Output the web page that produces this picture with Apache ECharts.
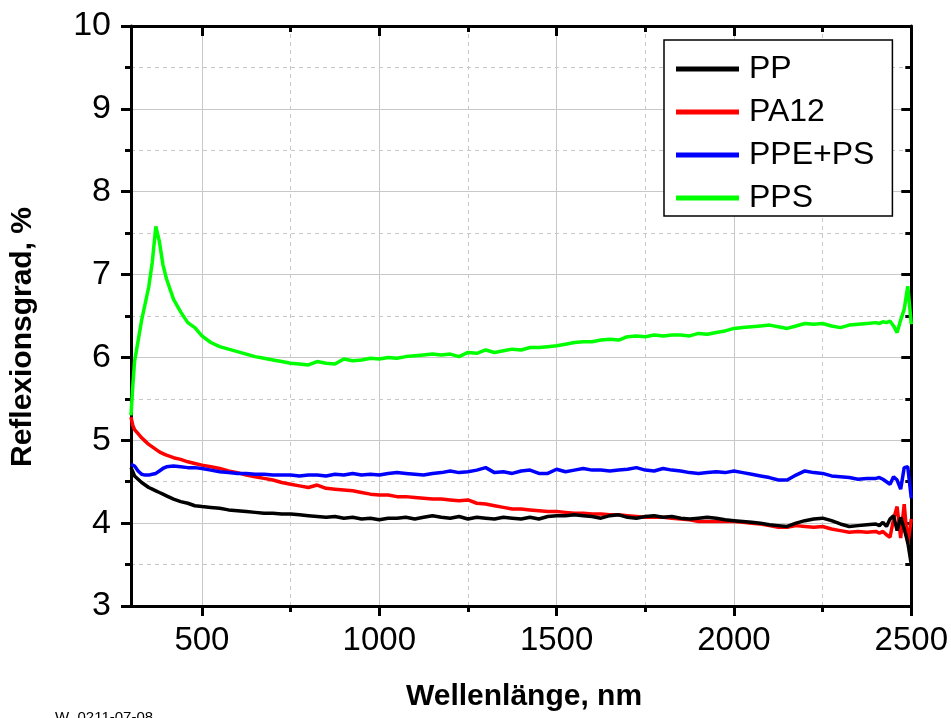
<!DOCTYPE html>
<html>
<head>
<meta charset="utf-8">
<title>Reflexionsgrad</title>
<script src="https://cdn.jsdelivr.net/npm/echarts@6/dist/echarts.min.js"></script>
<style>
	html, body { margin: 0; padding: 0; background: #fff; }
	#chart { width: 951px; height: 718px; }
</style>
</head>
<body>
<div id="chart"></div>
<script>
	// Wellenlänge in nm
	var wavelength = [
		300, 305, 310, 320, 330, 340, 350, 360, 370, 380, 390, 400, 420, 440, 460, 480, 500,
		525, 550, 575, 600, 625, 650, 675, 700, 725, 750, 775, 800, 825, 850, 875, 900, 925, 950, 975,
		1000, 1025, 1050, 1075, 1100, 1125, 1150, 1175, 1200, 1225, 1250, 1275, 1300, 1325, 1350, 1375,
		1400, 1425, 1450, 1475, 1500, 1525, 1550, 1575, 1600, 1625, 1650, 1675, 1700, 1725, 1750, 1775,
		1800, 1825, 1850, 1875, 1900, 1925, 1950, 1975, 2000, 2025, 2050, 2075, 2100, 2125, 2150, 2175,
		2200, 2225, 2250, 2275, 2300, 2325, 2350, 2375, 2400,
		2410, 2420, 2430, 2440, 2450, 2460, 2470, 2480, 2490, 2500
	];
	var pp = [
		4.67, 4.62, 4.57, 4.53, 4.49, 4.46, 4.43, 4.41, 4.39, 4.37, 4.35, 4.33, 4.29, 4.26, 4.24, 4.21, 4.20,
		4.19, 4.18, 4.16, 4.15, 4.14, 4.13, 4.12, 4.12, 4.11, 4.11, 4.10, 4.09, 4.08, 4.07, 4.08, 4.06, 4.07, 4.05, 4.06,
		4.04, 4.06, 4.06, 4.07, 4.05, 4.07, 4.09, 4.07, 4.06, 4.08, 4.05, 4.07, 4.06, 4.05, 4.07, 4.06,
		4.05, 4.07, 4.05, 4.08, 4.09, 4.09, 4.10, 4.09, 4.08, 4.06, 4.09, 4.10, 4.07, 4.06, 4.08, 4.09,
		4.07, 4.08, 4.06, 4.05, 4.06, 4.07, 4.06, 4.04, 4.03, 4.02, 4.01, 4.00, 3.98, 3.97, 3.96, 4.00,
		4.03, 4.05, 4.06, 4.03, 3.99, 3.96, 3.97, 3.98, 3.99,
		3.97, 4.01, 3.96, 4.05, 4.09, 3.91, 4.07, 3.93, 3.77, 3.50
	];
	var pa12 = [
		5.28, 5.18, 5.13, 5.08, 5.03, 4.99, 4.95, 4.92, 4.89, 4.86, 4.84, 4.82, 4.79, 4.77, 4.74, 4.72, 4.70,
		4.68, 4.66, 4.63, 4.61, 4.58, 4.56, 4.54, 4.52, 4.49, 4.47, 4.45, 4.43, 4.46, 4.42, 4.41, 4.40, 4.39, 4.37, 4.35,
		4.34, 4.34, 4.32, 4.32, 4.31, 4.30, 4.29, 4.29, 4.28, 4.27, 4.28, 4.24, 4.23, 4.21, 4.19, 4.17,
		4.17, 4.16, 4.15, 4.14, 4.14, 4.13, 4.12, 4.12, 4.11, 4.11, 4.10, 4.10, 4.09, 4.08, 4.07, 4.07,
		4.07, 4.06, 4.05, 4.04, 4.02, 4.02, 4.02, 4.02, 4.02, 4.01, 4.00, 3.99, 3.97, 3.95, 3.95, 3.97,
		3.96, 3.95, 3.96, 3.93, 3.91, 3.89, 3.90, 3.89, 3.90,
		3.88, 3.90, 3.86, 3.83, 4.05, 4.20, 3.82, 4.23, 3.75, 4.05
	];
	var ppePs = [
		4.71, 4.72, 4.69, 4.63, 4.59, 4.58, 4.58, 4.59, 4.60, 4.63, 4.66, 4.68, 4.69, 4.68, 4.67, 4.67, 4.66,
		4.64, 4.62, 4.61, 4.60, 4.60, 4.59, 4.59, 4.58, 4.58, 4.58, 4.57, 4.58, 4.58, 4.57, 4.59, 4.58, 4.60, 4.58, 4.59,
		4.58, 4.60, 4.61, 4.60, 4.59, 4.58, 4.60, 4.61, 4.63, 4.61, 4.62, 4.64, 4.67, 4.61, 4.62, 4.60,
		4.63, 4.64, 4.60, 4.60, 4.65, 4.62, 4.64, 4.66, 4.64, 4.64, 4.63, 4.64, 4.65, 4.67, 4.64, 4.63,
		4.66, 4.64, 4.63, 4.61, 4.60, 4.61, 4.62, 4.61, 4.63, 4.61, 4.59, 4.57, 4.55, 4.52, 4.52, 4.58,
		4.63, 4.61, 4.60, 4.57, 4.56, 4.55, 4.53, 4.54, 4.54,
		4.55, 4.53, 4.50, 4.47, 4.56, 4.52, 4.41, 4.67, 4.68, 4.30
	];
	var pps = [
		5.30, 5.65, 5.95, 6.20, 6.45, 6.65, 6.85, 7.15, 7.58, 7.40, 7.12, 6.95, 6.70, 6.55, 6.42, 6.36, 6.26,
		6.18, 6.13, 6.10, 6.07, 6.04, 6.01, 5.99, 5.97, 5.95, 5.93, 5.92, 5.91, 5.95, 5.93, 5.92, 5.98, 5.96, 5.97, 5.99,
		5.98, 6.00, 5.99, 6.01, 6.02, 6.03, 6.04, 6.03, 6.04, 6.01, 6.06, 6.05, 6.09, 6.06, 6.08, 6.10,
		6.09, 6.12, 6.12, 6.13, 6.14, 6.16, 6.18, 6.19, 6.19, 6.21, 6.22, 6.21, 6.25, 6.26, 6.25, 6.27,
		6.26, 6.27, 6.27, 6.26, 6.29, 6.28, 6.30, 6.32, 6.35, 6.36, 6.37, 6.38, 6.39, 6.37, 6.35, 6.38,
		6.41, 6.40, 6.41, 6.38, 6.36, 6.39, 6.40, 6.41, 6.42,
		6.41, 6.43, 6.42, 6.44, 6.38, 6.30, 6.45, 6.58, 6.86, 6.40
	];

	var seriesNames = ['PP', 'PA12', 'PPE+PS', 'PPS'];
	var seriesColors = ['#000000', '#ff0000', '#0000ff', '#00ff00'];
	var majorTicksX = [500, 1000, 1500, 2000, 2500];
	var minorTicksX = [750, 1250, 1750, 2250];

	var FONT = '"Liberation Sans", Arial, sans-serif';
	var gridColor = '#c8c8c8';

	function pairs(vals) {
		return wavelength.map(function (w, i) { return [w, vals[i]]; });
	}

	var chart = echarts.init(document.getElementById('chart'), null, { renderer: 'canvas' });

	// gemeinsame Achsenoptionen
	var axisLineStyle = { show: true, onZero: false, lineStyle: { color: '#000', width: 3 } };
	var tickStyle = { color: '#000', width: 3 };

	chart.setOption({
		animation: false,
		backgroundColor: '#fff',
		grid: { left: 131, right: 39, top: 26, bottom: 112, containLabel: false },
		legend: {
			orient: 'vertical',
			left: 664,
			top: 40,
			padding: [11, 18, 0, 12],
			itemGap: 7,
			itemWidth: 63,
			itemHeight: 5,
			icon: 'rect',
			borderColor: '#000',
			borderWidth: 1.5,
			backgroundColor: '#fff',
			data: seriesNames,
			textStyle: { fontFamily: FONT, fontSize: 32, lineHeight: 36, color: '#000', padding: [0, 0, 0, 5] }
		},
		xAxis: [
			{
				type: 'value', position: 'bottom', min: 300, max: 2500,
				axisLine: axisLineStyle,
				axisTick: { show: true, inside: false, length: 10, customValues: majorTicksX, lineStyle: tickStyle },
				axisLabel: {
					customValues: majorTicksX, fontFamily: FONT, fontSize: 33, color: '#000', margin: 18,
					formatter: function (v) { return String(v); }
				},
				splitLine: { show: true, lineStyle: { color: gridColor, width: 1 } }
			},
			{
				// Zwischenstriche unten + gestricheltes Gitter
				type: 'value', position: 'bottom', min: 300, max: 2500,
				axisLine: { show: false },
				axisTick: { show: true, inside: false, length: 6, customValues: minorTicksX, lineStyle: tickStyle },
				axisLabel: { show: false },
				splitLine: { show: true, lineStyle: { color: gridColor, width: 1, type: [4, 4] } }
			},
			{
				type: 'value', position: 'top', min: 300, max: 2500,
				axisLine: axisLineStyle,
				axisTick: { show: true, inside: true, length: 10, customValues: majorTicksX, lineStyle: tickStyle },
				axisLabel: { show: false },
				splitLine: { show: false }
			},
			{
				type: 'value', position: 'top', min: 300, max: 2500,
				axisLine: { show: false },
				axisTick: { show: true, inside: true, length: 6, customValues: minorTicksX, lineStyle: tickStyle },
				axisLabel: { show: false },
				splitLine: { show: false }
			}
		],
		yAxis: [
			{
				type: 'value', position: 'left', min: 3, max: 10, interval: 1,
				axisLine: axisLineStyle,
				axisTick: { show: true, inside: false, length: 10, lineStyle: tickStyle },
				minorTick: { show: true, splitNumber: 2, length: 6, lineStyle: tickStyle },
				axisLabel: { fontFamily: FONT, fontSize: 34, color: '#000', margin: 20 },
				splitLine: { show: true, lineStyle: { color: gridColor, width: 1 } },
				minorSplitLine: { show: true, lineStyle: { color: gridColor, width: 1, type: [4, 4] } }
			},
			{
				type: 'value', position: 'right', min: 3, max: 10, interval: 1,
				axisLine: axisLineStyle,
				axisTick: { show: true, inside: true, length: 10, lineStyle: tickStyle },
				minorTick: { show: true, splitNumber: 2, length: 6, lineStyle: tickStyle },
				axisLabel: { show: false },
				splitLine: { show: false }
			}
		],
		graphic: [
			{
				type: 'text', x: 23, y: 337, rotation: Math.PI / 2,
				style: { text: 'Reflexionsgrad, %', fontFamily: FONT, fontSize: 30, fontWeight: 'bold', fill: '#000', align: 'center', verticalAlign: 'middle' }
			},
			{
				type: 'text', x: 524, y: 697,
				style: { text: 'Wellenlänge, nm', fontFamily: FONT, fontSize: 30, fontWeight: 'bold', fill: '#000', align: 'center', verticalAlign: 'middle' }
			},
			{
				type: 'text', x: 55, y: 710,
				style: { text: 'W_0211-07-08', fontFamily: FONT, fontSize: 15, fill: '#000', align: 'left', verticalAlign: 'top' }
			}
		],
		series: [
			{ name: 'PP', data: pairs(pp), z: 6 },
			{ name: 'PA12', data: pairs(pa12), z: 4 },
			{ name: 'PPE+PS', data: pairs(ppePs), z: 5 },
			{ name: 'PPS', data: pairs(pps), z: 3 }
		].map(function (s, i) {
			s.type = 'line';
			s.xAxisIndex = 0;
			s.yAxisIndex = 0;
			s.symbol = 'none';
			s.showSymbol = false;
			s.color = seriesColors[i];
			s.lineStyle = { color: seriesColors[i], width: 3.5 };
			return s;
		})
	});
</script>
</body>
</html>
